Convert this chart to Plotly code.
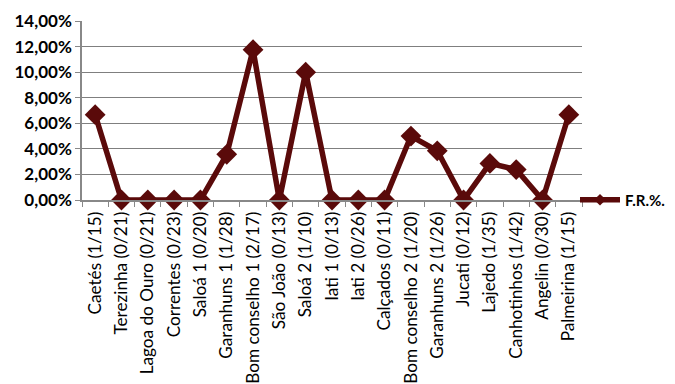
import plotly.graph_objects as go

categories = ["Caetés (1/15)", "Terezinha (0/21)", "Lagoa do Ouro (0/21)", "Correntes (0/23)",
              "Saloá 1 (0/20)", "Garanhuns 1 (1/28)", "Bom conselho 1 (2/17)", "São João (0/13)",
              "Saloá 2 (1/10)", "Iati 1 (0/13)", "Iati 2 (0/26)", "Calçados (0/11)",
              "Bom conselho 2 (1/20)", "Garanhuns 2 (1/26)", "Jucati (0/12)", "Lajedo (1/35)",
              "Canhotinhos (1/42)", "Angelin (0/30)", "Palmeirina (1/15)"]
fr_values = [0.0667, 0.0, 0.0, 0.0, 0.0, 0.0357, 0.1176, 0.0, 0.10, 0.0, 0.0, 0.0,
             0.05, 0.0385, 0.0, 0.0286, 0.0238, 0.0, 0.0667]
y_ticks = [0, 0.02, 0.04, 0.06, 0.08, 0.10, 0.12, 0.14]
y_tick_labels = ["0,00%", "2,00%", "4,00%", "6,00%", "8,00%", "10,00%", "12,00%", "14,00%"]
series_name = "F.R.%."

color = "#5a0a0a"
fig = go.Figure()
fig.add_trace(go.Scatter(
    x=categories, y=fr_values, mode="lines+markers", name=series_name,
    line=dict(color=color, width=5.5),
    marker=dict(symbol="diamond", size=16, color=color),
    cliponaxis=False, showlegend=False,
))
# legend entry (smaller marker, like the original legend key)
fig.add_trace(go.Scatter(
    x=[None], y=[None], mode="lines+markers", name=series_name,
    line=dict(color=color, width=5.5),
    marker=dict(symbol="diamond", size=9, color=color),
    showlegend=True,
))
fig.update_layout(
    width=675, height=384,
    margin=dict(l=74, r=101, t=13, b=192, autoexpand=False),
    paper_bgcolor="white", plot_bgcolor="white",
    font=dict(family="Lato", color="black"),
    showlegend=True,
    legend=dict(x=0.986, y=0, xanchor="left", yanchor="middle",
                font=dict(size=15, family="Lato", weight="bold"),
                bgcolor="rgba(0,0,0,0)", itemwidth=40),
)
fig.update_xaxes(
    type="category", tickangle=-90, tickfont=dict(size=17.2),
    showline=True, linecolor="#888", linewidth=1.5,
    ticks="outside", tickson="boundaries", ticklen=5, tickcolor="#888",
    ticklabelstandoff=3,
    showgrid=False, automargin=False, range=[-0.5, len(categories) - 0.5],
)
fig.update_yaxes(
    range=[0, 0.14], tickvals=y_ticks, ticktext=y_tick_labels,
    tickfont=dict(size=17, weight="bold"),
    showgrid=True, gridcolor="#7f7f7f", gridwidth=1.3,
    showline=True, linecolor="#888", linewidth=1.5,
    ticks="outside", ticklen=5, tickcolor="#888",
    zeroline=False, automargin=False,
)
fig.write_html("out.html")
